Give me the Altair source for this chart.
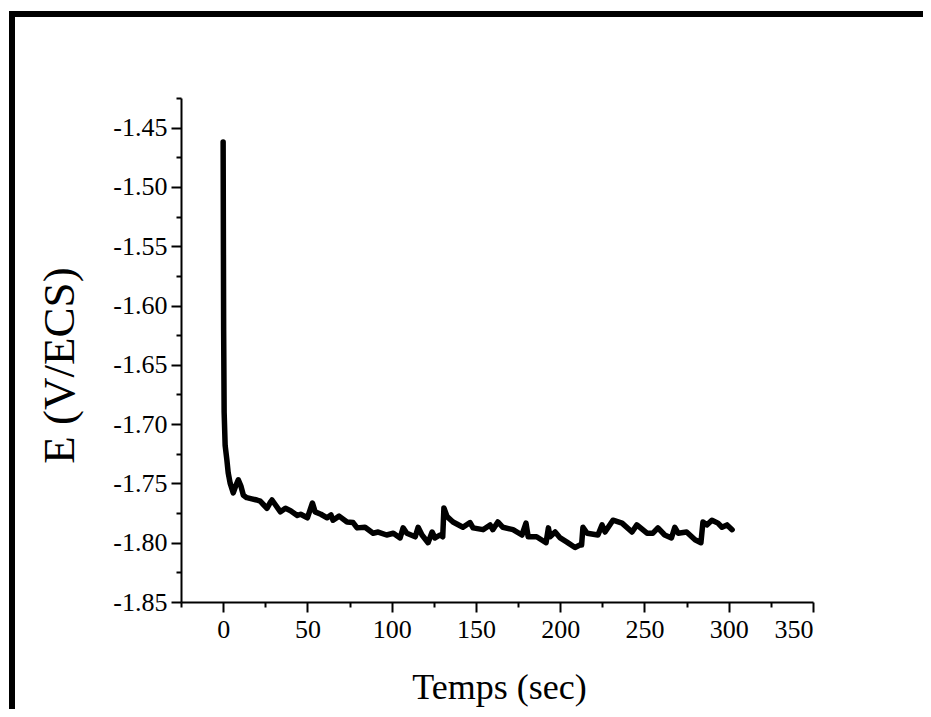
import altair as alt
import pandas as pd

t = [0, 0.3, 0.6, 1.2, 2.2, 3, 4.2, 6, 7.5, 9, 10.5, 12, 14, 17, 20, 22, 24, 26, 28, 29,
     31, 34, 37, 40, 44, 46, 50, 53, 54.6, 58, 61.7, 64, 65.2, 68.8, 73.5, 77.1, 79.5,
     84.2, 89, 92, 97, 101, 105, 106.8, 109, 114, 115.7, 118, 121.6, 124, 125.7, 128.7,
     130.3, 131, 132.9, 136.4, 142.3, 146.5, 148.3, 154.2, 158.4, 160, 163, 166, 172,
     177.3, 179.7, 181, 186, 191.6, 193, 194, 197, 200, 204, 208.8, 211.7, 212.7, 213.5,
     216, 222.4, 224.8, 226.6, 231.3, 236.7, 242.6, 245.5, 251.5, 255, 258, 262, 266,
     268, 270, 275, 280, 283.5, 284.7, 287, 290, 293.6, 296, 299, 302]
E = [-1.462, -1.62, -1.69, -1.718, -1.730, -1.741, -1.750, -1.758, -1.752, -1.747, -1.752,
     -1.760, -1.762, -1.763, -1.764, -1.765, -1.768, -1.771, -1.766, -1.764,
     -1.768, -1.774, -1.771, -1.773, -1.777, -1.776, -1.779, -1.7665, -1.774, -1.776,
     -1.779, -1.7766, -1.781, -1.7776, -1.7825, -1.783, -1.7875,
     -1.787, -1.792, -1.791, -1.7935, -1.792, -1.796, -1.7875, -1.792, -1.795, -1.787,
     -1.7935, -1.800, -1.791, -1.796, -1.7935,
     -1.795, -1.7707, -1.778, -1.7825, -1.787, -1.783, -1.7875, -1.789, -1.785, -1.789,
     -1.7825, -1.787, -1.789,
     -1.7935, -1.7835, -1.795, -1.795, -1.800, -1.7875, -1.795, -1.791, -1.796, -1.7995,
     -1.804, -1.802, -1.802, -1.787,
     -1.792, -1.7935, -1.785, -1.791, -1.781, -1.7835, -1.791, -1.785, -1.792, -1.792,
     -1.7875, -1.7935, -1.796,
     -1.787, -1.792, -1.791, -1.7975, -1.800, -1.7825, -1.785, -1.781, -1.7835, -1.787,
     -1.785, -1.789]

x_major = [0, 50, 100, 150, 200, 250, 300, 350]
x_minor = [-25, 25, 75, 125, 175, 225, 275, 325]
y_major = [-1.85, -1.80, -1.75, -1.70, -1.65, -1.60, -1.55, -1.50, -1.45]
y_minor = [-1.825, -1.775, -1.725, -1.675, -1.625, -1.575, -1.525, -1.475, -1.425]

x_domain = [-25, 350]
y_domain = [-1.85, -1.425]

FONT = "'Liberation Serif', 'Times New Roman', Times, serif"
df = pd.DataFrame({"t": t, "E": E})

xs = alt.Scale(domain=x_domain, nice=False, zero=False)
ys = alt.Scale(domain=y_domain, nice=False, zero=False)

label_expr = "datum.value < 0 ? '-' + format(-datum.value, '.2f') : format(datum.value, '.2f')"

minor = alt.Chart(df).mark_line(opacity=0).encode(
    x=alt.X("t:Q", scale=xs, axis=alt.Axis(
        orient="bottom", values=x_minor, labels=False, domain=False, grid=False,
        tickSize=5, tickWidth=2, tickColor="black", title=None)),
    y=alt.Y("E:Q", scale=ys, axis=alt.Axis(
        orient="left", values=y_minor, labels=False, domain=False, grid=False,
        tickSize=5, tickWidth=2, tickColor="black", title=None)),
)

line = alt.Chart(df).mark_line(color="black", strokeWidth=5.5, strokeJoin="round",
                               strokeCap="round").encode(
    x=alt.X("t:Q", scale=xs, axis=alt.Axis(
        orient="bottom", values=x_major, format="d", grid=False,
        domainColor="black", domainWidth=2, tickColor="black", tickWidth=2, tickSize=10,
        labelFont=FONT, labelFontSize=26, labelColor="black", labelPadding=4,
        title="Temps (sec)", titleFont=FONT, titleFontSize=36, titleFontWeight="normal",
        titleColor="black", titleX=318, titleY=96, titleBaseline="alphabetic")),
    y=alt.Y("E:Q", scale=ys, axis=alt.Axis(
        orient="left", values=y_major, labelExpr=label_expr, grid=False,
        domainColor="black", domainWidth=2, tickColor="black", tickWidth=2, tickSize=10,
        labelFont=FONT, labelFontSize=26, labelColor="black", labelPadding=4,
        title="E (V/ECS)", titleFont=FONT, titleFontSize=45, titleFontWeight="normal",
        titleColor="black", titleX=-99, titleY=267, titleBaseline="bottom")),
)

frame_left = alt.Chart(df).mark_rule(color="black", strokeWidth=6).encode(
    x=alt.value(-169), y=alt.value(-87), y2=alt.value(619))
frame_top = alt.Chart(df).mark_rule(color="black", strokeWidth=6).encode(
    x=alt.value(-172), x2=alt.value(750), y=alt.value(-84))

chart = alt.layer(minor, line, frame_left, frame_top).resolve_axis(
    x="independent", y="independent"
).properties(
    width=632, height=504, autosize="none",
    padding={"left": 173, "top": 90, "right": 110, "bottom": 107},
    background="white",
).configure(
    font=FONT,
    style={"guide-label": {"font": FONT}, "guide-title": {"font": FONT}},
).configure_axis(
    labelFont=FONT, titleFont=FONT
).configure_view(stroke=None)

chart.save("out.html", embed_options={"renderer": "svg", "actions": False})
